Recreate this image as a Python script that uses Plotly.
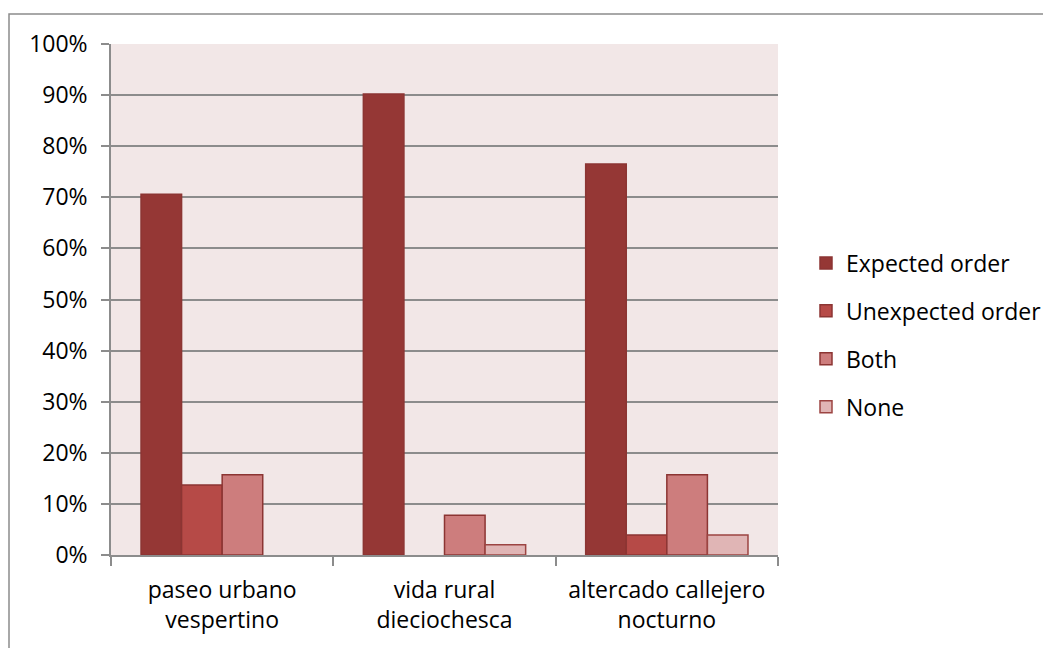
import plotly.graph_objects as go

categories = ["paseo urbano<br>vespertino", "vida rural<br>dieciochesca", "altercado callejero<br>nocturno"]
series_names = ["Expected order", "Unexpected order", "Both", "None"]
expected = [0.706, 0.902, 0.765]
unexpected = [0.137, None, 0.039]
both = [0.157, 0.078, 0.157]
none = [None, 0.020, 0.039]
y_ticks = [0, 0.1, 0.2, 0.3, 0.4, 0.5, 0.6, 0.7, 0.8, 0.9, 1.0]

series_values = [expected, unexpected, both, none]
fills = ["#953735", "#B64A47", "#CD7D7D", "#E0B5B5"]
lines = ["#8C3533", "#8C3533", "#8C3533", "#9C4442"]

FONT = "'Open Sans', Lato, sans-serif"
FS = 23

fig = go.Figure()
for i, (name, vals) in enumerate(zip(series_names, series_values)):
    fig.add_trace(go.Bar(
        x=categories, y=vals, name=name,
        marker=dict(color=fills[i], line=dict(color=lines[i], width=1.5)),
        legendgroup=name,
        hoverinfo="skip",
    ))

OFF = 8  # page body margin
W, H = 1043, 640
L, T = 111 - OFF, 44 - OFF
RIGHT, BOTTOM = 778 - OFF, 555 - OFF
R, B = W - RIGHT, H - BOTTOM
pw, ph = RIGHT - L, BOTTOM - T

def px_x(p):
    return (p - OFF - L) / pw

def px_y(p):
    return (BOTTOM - (p - OFF)) / ph

fig.add_shape(type="rect", xref="paper", yref="paper",
              x0=px_x(9), x1=px_x(1070), y0=px_y(670), y1=px_y(14),
              line=dict(color="#8C8C8C", width=1.5), fillcolor="rgba(0,0,0,0)", layer="below")

fig.update_layout(
    width=W, height=H,
    margin=dict(l=L, r=R, t=T, b=B, autoexpand=False),
    paper_bgcolor="white",
    plot_bgcolor="#F2E7E7",
    barmode="group",
    bargap=0.27,
    bargroupgap=0,
    font=dict(family=FONT, size=FS, color="#000000"),
    showlegend=True,
    legend=dict(x=px_x(806), xanchor="left", y=px_y(335), yanchor="middle",
                tracegroupgap=15, font=dict(size=FS), bgcolor="rgba(0,0,0,0)",
                itemwidth=30),
    xaxis=dict(
        showgrid=False, showline=True, linecolor="#8C8C8C", linewidth=1.5,
        ticks="outside", ticklen=9, tickcolor="#8C8C8C", tickwidth=1.5,
        tickson="boundaries", tickfont=dict(size=FS), ticklabelstandoff=14,
    ),
    yaxis=dict(
        range=[0, 1.0], tickvals=y_ticks, tickformat=".0%",
        showgrid=True, gridcolor="#8C8C8C", gridwidth=1.5,
        showline=True, linecolor="#8C8C8C", linewidth=1.5,
        ticks="outside", ticklen=8, tickcolor="#8C8C8C", tickwidth=1.5,
        zeroline=False, tickfont=dict(size=FS), ticklabelstandoff=9,
    ),
)

fig.write_html("out.html")
